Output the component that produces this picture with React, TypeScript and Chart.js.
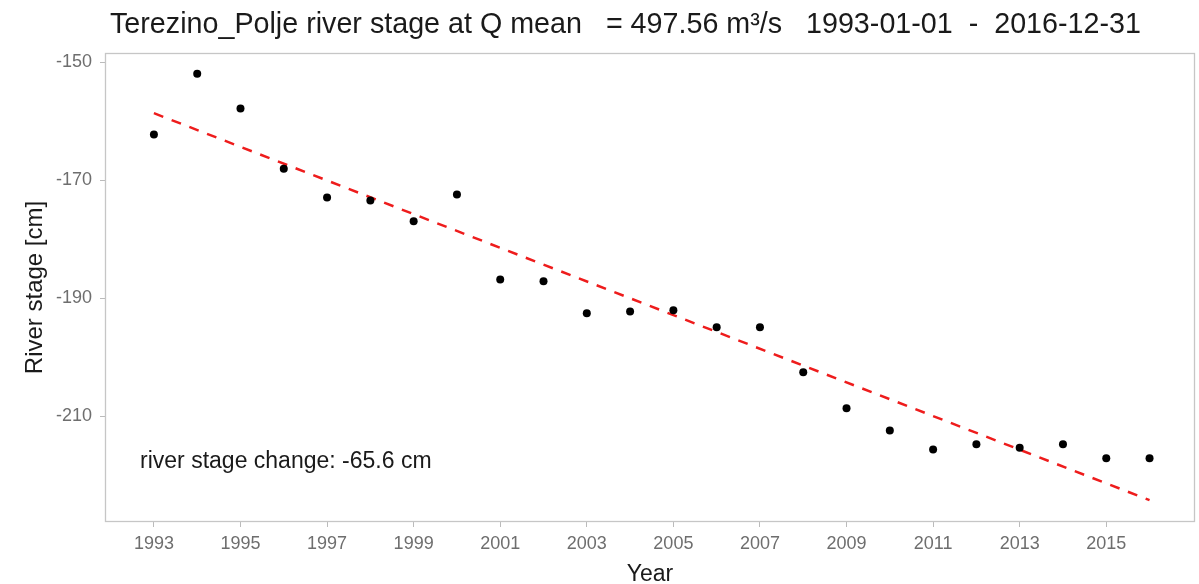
import { useEffect, useRef } from "react";
import { Chart, registerables } from "chart.js";

Chart.register(...registerables);

// Annual river stage at mean discharge, Terezino Polje gauge
const YEARS = [
  1993, 1994, 1995, 1996, 1997, 1998, 1999, 2000, 2001, 2002, 2003, 2004,
  2005, 2006, 2007, 2008, 2009, 2010, 2011, 2012, 2013, 2014, 2015, 2016,
];
const STAGE_CM = [
  -162.2, -151.9, -157.8, -168.0, -172.9, -173.4, -176.9, -172.4, -186.8,
  -187.1, -192.5, -192.2, -192.0, -194.9, -194.9, -202.5, -208.6, -212.4,
  -215.6, -214.7, -215.3, -214.7, -217.1, -217.1,
];

// Linear trend: value at the first year and total change over the record
const TREND_YEARS = [1993, 2016];
const TREND_START_CM = -158.6;
const STAGE_CHANGE_CM = -65.6;

const X_TICKS = [1993, 1995, 1997, 1999, 2001, 2003, 2005, 2007, 2009, 2011, 2013, 2015];
const Y_TICKS = [-150, -170, -190, -210];

const TITLE =
  "Terezino_Polje river stage at Q mean   = 497.56 m\u00B3/s   1993-01-01  -  2016-12-31";
const X_TITLE = "Year";
const Y_TITLE = "River stage [cm]";
const CHANGE_LABEL = `river stage change: ${STAGE_CHANGE_CM} cm`;

const FONT = "'Liberation Sans', Arial, Helvetica, sans-serif";

const textPlugin = {
  id: "stageText",
  beforeDatasetsDraw(chart: any) {
    const { ctx, chartArea: a } = chart;
    ctx.save();
    ctx.strokeStyle = "#c6c6c6";
    ctx.lineWidth = 1.3;
    ctx.strokeRect(a.left + 0.5, a.top + 0.5, a.right - a.left - 1, a.bottom - a.top - 1);
    ctx.restore();
  },
  afterDraw(chart: any) {
    const { ctx, chartArea: a, scales } = chart;
    ctx.save();
    ctx.fillStyle = "#1a1a1a";
    ctx.textBaseline = "alphabetic";

    ctx.font = `28.7px ${FONT}`;
    ctx.textAlign = "left";
    ctx.fillText(TITLE, 110, 33);

    ctx.font = `23px ${FONT}`;
    ctx.textAlign = "center";
    ctx.fillText(X_TITLE, (a.left + a.right) / 2, 581);

    ctx.font = `24px ${FONT}`;
    ctx.save();
    ctx.translate(42, (a.top + a.bottom) / 2);
    ctx.rotate(-Math.PI / 2);
    ctx.fillText(Y_TITLE, 0, 0);
    ctx.restore();

    ctx.font = `23px ${FONT}`;
    ctx.textAlign = "left";
    ctx.fillText(CHANGE_LABEL, scales.x.getPixelForValue(1992.68), scales.y.getPixelForValue(-218.8));
    ctx.restore();
  },
};

export default function App() {
  const canvasRef = useRef<HTMLCanvasElement | null>(null);

  useEffect(() => {
    const canvas = canvasRef.current;
    if (!canvas) return;
    const points = YEARS.map((x, i) => ({ x, y: STAGE_CM[i] }));
    const trend = [
      { x: TREND_YEARS[0], y: TREND_START_CM },
      { x: TREND_YEARS[1], y: TREND_START_CM + STAGE_CHANGE_CM },
    ];
    const tickFont = { family: FONT, size: 18 };
    const chart = new Chart(canvas, {
      type: "scatter",
      data: {
        datasets: [
          {
            label: "stage",
            data: points,
            order: 0,
            pointRadius: 4,
            pointBackgroundColor: "#000",
            pointBorderColor: "#000",
            pointBorderWidth: 0,
          },
          {
            label: "trend",
            data: trend,
            order: 1,
            showLine: true,
            borderColor: "#ee1c1c",
            borderWidth: 2.5,
            borderDash: [10, 9],
            pointRadius: 0,
            fill: false,
          },
        ],
      },
      options: {
        animation: false,
        responsive: false,
        devicePixelRatio: 1,
        layout: { padding: { left: 0, right: 2, top: 53, bottom: 0 } },
        plugins: { legend: { display: false }, title: { display: false }, tooltip: { enabled: false } },
        scales: {
          x: {
            type: "linear",
            min: 1991.87,
            max: 2017.05,
            afterBuildTicks: (s: any) => {
              s.ticks = X_TICKS.map((v) => ({ value: v }));
            },
            afterFit: (s: any) => {
              s.height = 62;
            },
            border: { display: false },
            grid: { drawOnChartArea: false, drawTicks: true, tickLength: 5, color: "#bbbbbb", tickColor: "#bbbbbb" },
            ticks: {
              autoSkip: false,
              maxRotation: 0,
              padding: 6,
              color: "#6e6e6e",
              font: tickFont,
              callback: (v: any) => String(v),
            },
          },
          y: {
            type: "linear",
            min: -227.9,
            max: -148.4,
            afterBuildTicks: (s: any) => {
              s.ticks = Y_TICKS.map((v) => ({ value: v }));
            },
            afterFit: (s: any) => {
              s.width = 105;
            },
            border: { display: false },
            grid: { drawOnChartArea: false, drawTicks: true, tickLength: 5, color: "#bbbbbb", tickColor: "#bbbbbb" },
            ticks: {
              padding: 8,
              color: "#6e6e6e",
              font: tickFont,
              callback: (v: any) => String(v),
            },
          },
        },
      },
      plugins: [textPlugin],
    });
    return () => chart.destroy();
  }, []);

  return (
    <div style={{ position: "absolute", left: 0, top: 0, width: 1199, height: 584, background: "#fff" }}>
      <canvas ref={canvasRef} width={1199} height={584} />
    </div>
  );
}
